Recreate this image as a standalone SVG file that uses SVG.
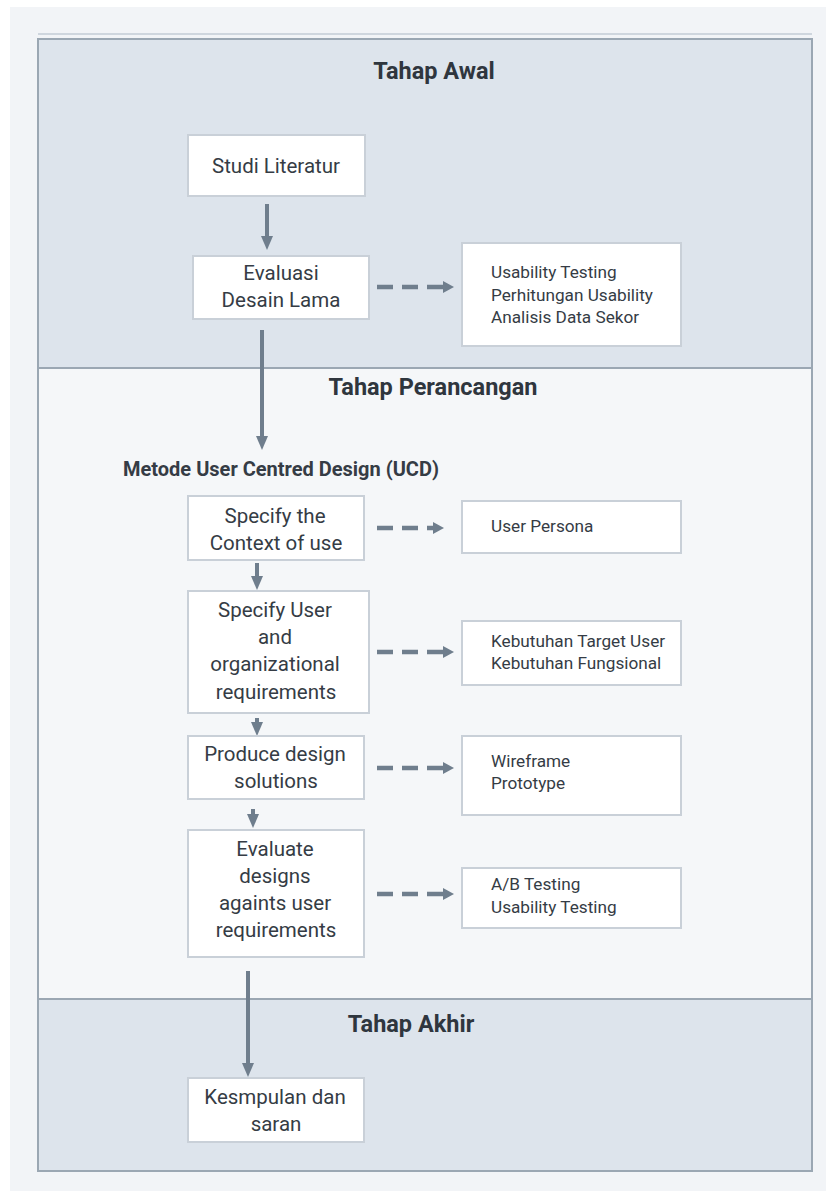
<svg xmlns="http://www.w3.org/2000/svg" width="826" height="1191" viewBox="0 0 826 1191">
<defs>
<style>
.sec1{fill:#dde4ec;}
.sec2{fill:#f5f7f9;}
.frame{fill:none;stroke:#9ba7b3;stroke-width:2;}
.box{fill:#ffffff;stroke:#c9d0d8;stroke-width:2;}
.t{font-family:Roboto,"Liberation Sans",sans-serif;fill:#353c45;}
.bt{font-size:20.5px;text-anchor:middle;}
.rt{font-size:17.2px;}
.h{font-size:23.5px;font-weight:bold;text-anchor:middle;fill:#2f363e;}
.solid{stroke:#6f7e8d;stroke-width:4;fill:none;}
.dash{stroke:#6f7e8d;stroke-width:4.5;fill:none;stroke-dasharray:16 9;}
</style>
<marker id="ah" viewBox="0 0 14 12" refX="0" refY="6" markerWidth="14" markerHeight="12" markerUnits="userSpaceOnUse" orient="auto">
<path d="M0,0 L14,6 L0,12 Z" fill="#6f7e8d"/>
</marker>
<marker id="ahs" viewBox="0 0 11 12" refX="0" refY="6" markerWidth="11" markerHeight="12" markerUnits="userSpaceOnUse" orient="auto">
<path d="M0,0 L11,6 L0,12 Z" fill="#6f7e8d"/>
</marker>
</defs>
<rect x="0" y="0" width="826" height="1191" fill="#ffffff"/>
<rect x="10" y="7" width="816" height="1184" fill="#f2f4f7"/>
<g id="section-awal">
<rect class="sec1" x="38" y="39" width="774" height="329"/>
<line x1="38" y1="34" x2="812" y2="34" stroke="#cfd6de" stroke-width="2"/>
<rect class="frame" x="38" y="39" width="774" height="329"/>
<text class="t h" x="434" y="79">Tahap Awal</text>
</g>
<g id="section-perancangan">
<rect class="sec2" x="38" y="368" width="774" height="631"/>
<rect class="frame" x="38" y="368" width="774" height="631"/>
<text class="t h" x="433" y="395">Tahap Perancangan</text>
<text class="t" x="123" y="476" font-size="20" font-weight="bold" fill="#2f363e">Metode User Centred Design (UCD)</text>
</g>
<g id="section-akhir">
<rect class="sec1" x="38" y="999" width="774" height="172"/>
<rect class="frame" x="38" y="999" width="774" height="172"/>
<text class="t h" x="411" y="1032">Tahap Akhir</text>
</g>
<g id="connectors">
<path class="solid" d="M267,204 V236" marker-end="url(#ah)"/>
<path class="dash" d="M377,287 H443" marker-end="url(#ahs)"/>
<path class="solid" d="M262,330 V436" marker-end="url(#ah)"/>
<path class="dash" d="M377,528 H433" marker-end="url(#ahs)"/>
<path class="solid" d="M257,563 V576" marker-end="url(#ah)"/>
<path class="dash" d="M377,652 H443" marker-end="url(#ahs)"/>
<path class="solid" d="M257,718 V722" marker-end="url(#ah)"/>
<path class="dash" d="M377,768 H443" marker-end="url(#ahs)"/>
<path class="solid" d="M253,809 V814" marker-end="url(#ah)"/>
<path class="dash" d="M377,894 H443" marker-end="url(#ahs)"/>
<path class="solid" d="M248,971 V1063" marker-end="url(#ah)"/>
</g>
<g id="studi-literatur">
<rect class="box" x="188" y="135" width="177" height="61"/>
<text class="t bt" x="276" y="173">Studi Literatur</text>
</g>
<g id="evaluasi-desain-lama">
<rect class="box" x="193" y="256" width="176" height="63"/>
<text class="t bt" x="281" y="280">Evaluasi</text>
<text class="t bt" x="281" y="307">Desain Lama</text>
</g>
<g id="usability-box">
<rect class="box" x="462" y="243" width="219" height="103"/>
<text class="t rt" x="491" y="278">Usability Testing</text>
<text class="t rt" x="491" y="301">Perhitungan Usability</text>
<text class="t rt" x="491" y="323">Analisis Data Sekor</text>
</g>
<g id="specify-context">
<rect class="box" x="188" y="496" width="176" height="64"/>
<text class="t bt" x="275" y="523">Specify the</text>
<text class="t bt" x="276" y="550">Context of use</text>
</g>
<g id="user-persona">
<rect class="box" x="462" y="501" width="219" height="52"/>
<text class="t rt" x="491" y="532">User Persona</text>
</g>
<g id="specify-user">
<rect class="box" x="188" y="591" width="181" height="122"/>
<text class="t bt" x="275" y="617">Specify User</text>
<text class="t bt" x="275" y="644">and</text>
<text class="t bt" x="275" y="671">organizational</text>
<text class="t bt" x="276" y="699">requirements</text>
</g>
<g id="kebutuhan">
<rect class="box" x="462" y="621" width="219" height="64"/>
<text class="t rt" x="491" y="647">Kebutuhan Target User</text>
<text class="t rt" x="491" y="669">Kebutuhan Fungsional</text>
</g>
<g id="produce-design">
<rect class="box" x="188" y="736" width="176" height="63"/>
<text class="t bt" x="275" y="761">Produce design</text>
<text class="t bt" x="276" y="788">solutions</text>
</g>
<g id="wireframe">
<rect class="box" x="462" y="736" width="219" height="79"/>
<text class="t rt" x="491" y="767">Wireframe</text>
<text class="t rt" x="491" y="789">Prototype</text>
</g>
<g id="evaluate-designs">
<rect class="box" x="188" y="830" width="176" height="127"/>
<text class="t bt" x="275" y="856">Evaluate</text>
<text class="t bt" x="275" y="883">designs</text>
<text class="t bt" x="275" y="910">againts user</text>
<text class="t bt" x="276" y="937">requirements</text>
</g>
<g id="ab-testing">
<rect class="box" x="462" y="868" width="219" height="60"/>
<text class="t rt" x="491" y="890">A/B Testing</text>
<text class="t rt" x="491" y="913">Usability Testing</text>
</g>
<g id="kesimpulan">
<rect class="box" x="188" y="1078" width="176" height="64"/>
<text class="t bt" x="275" y="1104">Kesmpulan dan</text>
<text class="t bt" x="276" y="1131">saran</text>
</g>
</svg>
